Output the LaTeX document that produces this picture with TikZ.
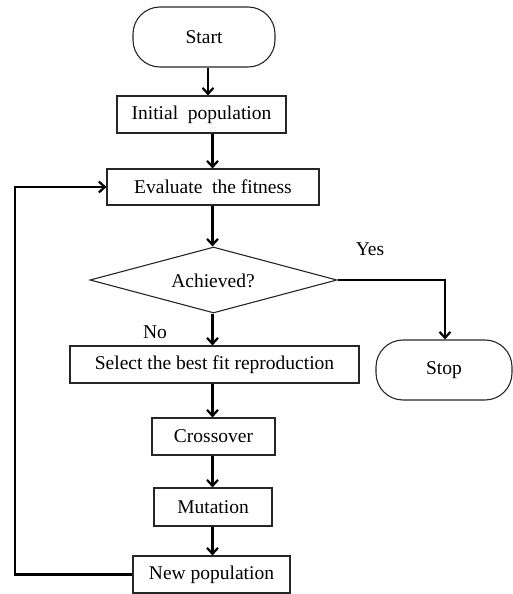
\documentclass[tikz,border=0pt]{standalone}
\usepackage{fontspec}
\setmainfont{Liberation Serif}
\usetikzlibrary{arrows.meta,shapes.geometric}
\tikzset{
  box/.style={draw=black!85,line width=1.1pt,inner sep=0pt,font=\fontsize{19.5}{21}\selectfont},
  term/.style={box,rounded corners=27pt},
  decision/.style={box,diamond,aspect=3.74,minimum width=247pt,minimum height=66pt},
  conn/.style={line width=2.2pt,-{Straight Barb[length=6pt,width=11pt]}},
  lbl/.style={inner sep=0pt,font=\fontsize{19.5}{21}\selectfont}
}
\begin{document}
\begin{tikzpicture}[x=1pt,y=-1pt]
\useasboundingbox (0,0) rectangle (513,594);
\node[term,minimum width=142pt,minimum height=60pt] (start) at (204,37) {Start};
\node[box,minimum width=169pt,minimum height=37pt] (init) at (201.5,114.5) {Initial\ \ population};
\node[box,minimum width=212pt,minimum height=36pt] (eval) at (213,187) {Evaluate\ \ the fitness};
\node[decision] (dec) at (213.5,280) {};
\node[lbl] (ach) at (213,281) {Achieved?};
\node[box,minimum width=289pt,minimum height=37pt] (sel) at (214.5,364.5) {Select\ the best fit reproduction};
\node[term,minimum width=136pt,minimum height=60pt] (stop) at (444,370) {Stop};
\node[box,minimum width=123pt,minimum height=37pt] (cross) at (213.5,436.5) {Crossover};
\node[box,minimum width=118pt,minimum height=38pt] (mut) at (213,507) {Mutation};
\node[box,minimum width=157pt,minimum height=37pt] (newp) at (211.5,574.5) {New population};
\node[lbl] (yes) at (370,249) {Yes};
\node[lbl] (no) at (155,332) {No};
\coordinate (a1) at (208,0);
\coordinate (ax) at (212.5,0);
\coordinate (lx) at (15,0);
\coordinate (sx) at (445,0);
\draw[conn] (start.south -| a1) -- (init.north -| a1);
\draw[conn] (init.south -| ax) -- (eval.north -| ax);
\draw[conn] (eval.south -| ax) -- (dec.north -| ax);
\draw[conn] (dec.south -| ax) -- (sel.north -| ax);
\draw[conn] (sel.south -| ax) -- (cross.north -| ax);
\draw[conn] (cross.south -| ax) -- (mut.north -| ax);
\draw[conn] (mut.south -| ax) -- (newp.north -| ax);
\draw[conn] (dec.east) -| (stop.north -| sx);
\draw[conn] (newp.west) -| (lx |- eval.west) -- (eval.west);
\end{tikzpicture}
\end{document}
